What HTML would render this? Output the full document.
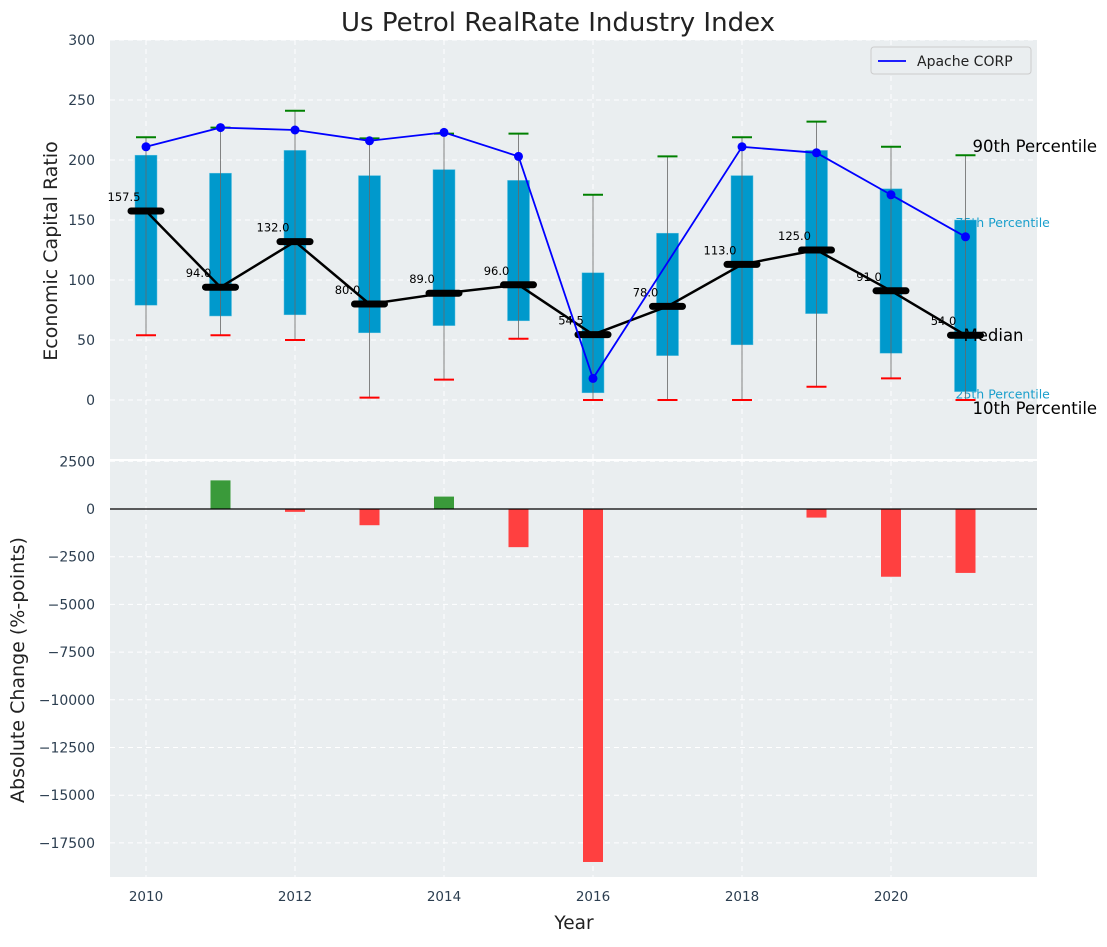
<!DOCTYPE html>
<html><head><meta charset="utf-8"><style>
body{margin:0;background:#fff;}
svg text{font-family:"DejaVu Sans","Liberation Sans",sans-serif;}
</style></head><body>
<svg id="chart" width="1107" height="942" xmlns="http://www.w3.org/2000/svg"></svg>
<script>
const years=[2010,2011,2012,2013,2014,2015,2016,2017,2018,2019,2020,2021];
const q1=[79,70,71,56,62,66,6,37,46,72,39,7];
const q3=[204,189,208,187,192,183,106,139,187,208,176,150];
const p90=[219,227,241,218,222,222,171,203,219,232,211,204];
const p10=[54,54,50,2,17,51,0,0,0,11,18,0];
const medians=[157.5,94,132,80,89,96,54.5,78,113,125,91,54];
const apache=[211,227,225,216,223,203,18,null,211,206,171,136];
const changes=[0,1500,-150,-850,650,-2000,-18500,0,0,-450,-3550,-3350];
const topTicks=[0,50,100,150,200,250,300];
const botTicks=[2500,0,-2500,-5000,-7500,-10000,-12500,-15000,-17500];
const xTicks=[2010,2012,2014,2016,2018,2020];

const NS='http://www.w3.org/2000/svg';
const svg=document.getElementById('chart');
function mk(tag,attrs,parent){const e=document.createElementNS(NS,tag);for(const k in attrs)e.setAttribute(k,attrs[k]);(parent||svg).appendChild(e);return e;}
const L=110,R=1037;
const x=y=>146+(y-2010)*74.5;
const yT=v=>400-v*1.2;
const yB=v=>509-v*(47.7/2500);

let p=mk('rect',{x:L,y:40,width:R-L,height:419,fill:'#eaeef0'});


p=mk('rect',{x:L,y:461,width:R-L,height:416,fill:'#eaeef0'});



xTicks.forEach(t=>{
 mk('line',{x1:x(t),x2:x(t),y1:40,y2:459,stroke:'#fff','stroke-dasharray':'5,4','stroke-width':1});
 mk('line',{x1:x(t),x2:x(t),y1:461,y2:877,stroke:'#fff','stroke-dasharray':'5,4','stroke-width':1});
 let t1=mk('text',{x:x(t),y:901,'text-anchor':'middle','font-size':13.5,fill:'#2c3e50'});t1.textContent=t;
 
});
topTicks.forEach(t=>{
 mk('line',{x1:L,x2:R,y1:yT(t),y2:yT(t),stroke:'#fff','stroke-dasharray':'5,4'});
 let t1=mk('text',{x:95,y:yT(t)+5,'text-anchor':'end','font-size':14,fill:'#2c3e50'});t1.textContent=t;
 
});
botTicks.forEach(t=>{
 mk('line',{x1:L,x2:R,y1:yB(t),y2:yB(t),stroke:'#fff','stroke-dasharray':'5,4'});
 let t1=mk('text',{x:95,y:yB(t)+5,'text-anchor':'end','font-size':14,fill:'#2c3e50'});t1.textContent=(t<0?'\u2212'+(-t):t);
 
});

const last=x(2021);
[['75th Percentile',last-10,yT(150)-6+11],['25th Percentile',last-10,yT(7)-6+11]].forEach(a=>{
 let t=mk('text',{x:a[1],y:a[2]+2,'font-size':12.5,fill:'#1a9fcc'});t.textContent=a[0];
 
});

years.forEach((yr,i)=>{
 const cx=x(yr);
 let b=mk('rect',{x:cx-11,y:yT(q3[i]),width:22,height:yT(q1[i])-yT(q3[i]),fill:'#0099cc',stroke:'#5cc0e0','stroke-width':0.5});
 
 mk('line',{x1:cx,x2:cx,y1:yT(p90[i]),y2:yT(p10[i]),stroke:'#666','stroke-opacity':0.8,'stroke-width':1});
 let c=mk('line',{x1:cx-10,x2:cx+10,y1:yT(p90[i]),y2:yT(p90[i]),stroke:'green','stroke-width':2});
 
 c=mk('line',{x1:cx-10,x2:cx+10,y1:yT(p10[i]),y2:yT(p10[i]),stroke:'red','stroke-width':2});
 
});
let mp=mk('polyline',{points:years.map((yr,i)=>x(yr)+','+yT(medians[i])).join(' '),fill:'none',stroke:'#000','stroke-width':2.5});

years.forEach((yr,i)=>{
 let m=mk('line',{x1:x(yr)-15,x2:x(yr)+15,y1:yT(medians[i]),y2:yT(medians[i]),stroke:'#000','stroke-width':7,'stroke-linecap':'round'});
 
 let t=mk('text',{x:x(yr)-22,y:yT(medians[i])-10,'text-anchor':'middle','font-size':11.5,fill:'#000'});t.textContent=medians[i].toFixed(1);
 
});
let pts=[];years.forEach((yr,i)=>{if(apache[i]!==null)pts.push(x(yr)+','+yT(apache[i]));});
let ap=mk('polyline',{points:pts.join(' '),fill:'none',stroke:'blue','stroke-width':1.8});

years.forEach((yr,i)=>{if(apache[i]===null)return;
 let d=mk('circle',{cx:x(yr),cy:yT(apache[i]),r:4.5,fill:'blue'});
 });

[['90th Percentile',last+7,yT(204)-3],['Median',last-2,yT(54)+6],['10th Percentile',last+7,yT(0)+14]].forEach(a=>{
 let t=mk('text',{x:a[1],y:a[2],'font-size':16.5,fill:'#000'});t.textContent=a[0];
 
});

years.forEach((yr,i)=>{if(changes[i]===0)return;
 const y0=yB(0),y1=yB(changes[i]);
 let b=mk('rect',{x:x(yr)-10,y:Math.min(y0,y1),width:20,height:Math.abs(y1-y0),fill:changes[i]>0?'#3a9a3a':'#ff4040'});
 
});
mk('line',{x1:L,x2:R,y1:yB(0),y2:yB(0),stroke:'#000','stroke-width':1.2});

let lg=mk('g',{});
mk('rect',{x:871,y:47,width:160,height:27,rx:3,fill:'#eaeef0',stroke:'#ccc'},lg);
mk('line',{x1:878,x2:906,y1:61,y2:61,stroke:'blue','stroke-width':1.8},lg);
let lt=mk('text',{x:917,y:66,'font-size':14,fill:'#222'},lg);lt.textContent='Apache CORP';

let tt=mk('text',{x:558,y:31,'text-anchor':'middle','font-size':26,fill:'#222'});tt.textContent='Us Petrol RealRate Industry Index';

tt=mk('text',{x:574,y:929,'text-anchor':'middle','font-size':18.5,fill:'#222'});tt.textContent='Year';

tt=mk('text',{x:57,y:251,'text-anchor':'middle','font-size':19,fill:'#222',transform:'rotate(-90 57 251)'});tt.textContent='Economic Capital Ratio';

tt=mk('text',{x:24,y:670,'text-anchor':'middle','font-size':19,fill:'#222',transform:'rotate(-90 24 670)'});tt.textContent='Absolute Change (%-points)';

</script>
</body></html>
